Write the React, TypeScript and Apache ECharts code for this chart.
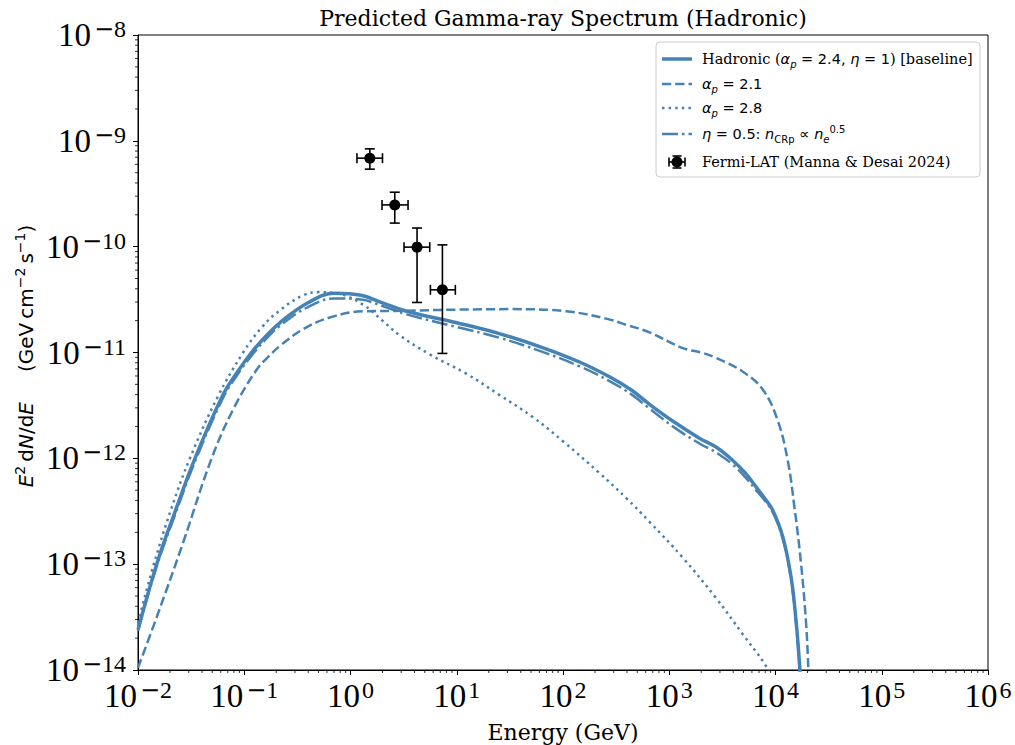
import React, { useEffect, useRef } from 'react';
import * as echarts from 'echarts';

const COLOR = '#4682b4';

// Hadronic baseline (alpha_p = 2.4, eta = 1) and eta = 0.5 share an energy grid (GeV)
const baseEnergy = [0.01, 0.015, 0.0224, 0.0344, 0.0631, 0.085, 0.117, 0.158, 0.216, 0.398, 0.711, 1.26, 2.0, 3.37, 10, 25.1, 63.1, 143, 274, 447, 652, 1122, 1923, 2818, 3963, 5212, 6561, 7943, 9419, 11695, 13996, 15596, 16982, 18197];
const baselineFlux = [2.4e-14, 1.0e-13, 3.16e-13, 1.0e-12, 3.98e-12, 6.4e-12, 1.0e-11, 1.41e-11, 1.91e-11, 2.95e-11, 3.63e-11, 3.47e-11, 2.95e-11, 2.45e-11, 1.91e-11, 1.51e-11, 1.12e-11, 8.13e-12, 5.89e-12, 4.37e-12, 3.24e-12, 2.19e-12, 1.55e-12, 1.26e-12, 9.55e-13, 7.24e-13, 5.37e-13, 4.17e-13, 3.24e-13, 1.82e-13, 7.59e-14, 2.95e-14, 1.0e-14, 3.16e-15];
const etaFlux = [2.34e-14, 9.55e-14, 2.95e-13, 9.33e-13, 3.72e-12, 6.03e-12, 9.33e-12, 1.32e-11, 1.78e-11, 2.69e-11, 3.24e-11, 3.16e-11, 2.75e-11, 2.29e-11, 1.74e-11, 1.38e-11, 1.02e-11, 7.41e-12, 5.37e-12, 3.98e-12, 2.95e-12, 1.95e-12, 1.38e-12, 1.12e-12, 8.71e-13, 6.61e-13, 5.01e-13, 3.98e-13, 3.09e-13, 1.74e-13, 7.24e-14, 2.82e-14, 9.55e-15, 3.16e-15];

// alpha_p = 2.1
const alpha21Energy = [0.01, 0.015, 0.0267, 0.0493, 0.0794, 0.131, 0.168, 0.216, 0.358, 0.638, 1.32, 3.16, 10, 31.6, 107, 255, 398, 652, 1343, 1995, 2754, 4898, 7586, 10471, 13032, 15066, 17378, 19409, 20417, 21380];
const alpha21Flux = [1.05e-14, 3.16e-14, 1.62e-13, 1.0e-12, 2.95e-12, 6.9e-12, 9.1e-12, 1.15e-11, 1.66e-11, 2.14e-11, 2.45e-11, 2.48e-11, 2.54e-11, 2.57e-11, 2.45e-11, 2.09e-11, 1.82e-11, 1.55e-11, 1.1e-11, 1.0e-11, 8.91e-12, 6.61e-12, 4.47e-12, 2.29e-12, 9.55e-13, 3.47e-13, 1.02e-13, 2.75e-14, 1.0e-14, 3.98e-15];

// alpha_p = 2.8
const alpha28Energy = [0.01, 0.0141, 0.0207, 0.0308, 0.0562, 0.0977, 0.147, 0.216, 0.358, 0.501, 0.738, 1.32, 2.0, 2.91, 5.62, 12.3, 25.1, 52.1, 100, 221, 398, 652, 1343, 2754, 4898, 7870, 8913];
const alpha28Flux = [2.8e-14, 1.0e-13, 3.4e-13, 1.0e-12, 3.8e-12, 1.0e-11, 1.74e-11, 2.5e-11, 3.47e-11, 3.72e-11, 3.63e-11, 2.82e-11, 2.0e-11, 1.45e-11, 9.55e-12, 6.31e-12, 3.98e-12, 2.45e-12, 1.45e-12, 7.24e-13, 4.17e-13, 2.51e-13, 1.15e-13, 4.79e-14, 2.19e-14, 1.15e-14, 8.9e-15];

// Fermi-LAT points (Manna & Desai 2024)
const fermiEnergy = [1.52, 2.61, 4.23, 7.33];
const fermiEnergyLow = [1.15, 1.98, 3.19, 5.65];
const fermiEnergyHigh = [2.0, 3.48, 5.57, 9.7];
const fermiFlux = [6.86e-10, 2.48e-10, 9.9e-11, 3.91e-11];
const fermiFluxLow = [5.4e-10, 1.67e-10, 2.97e-11, 9.8e-12];
const fermiFluxHigh = [8.4e-10, 3.27e-10, 1.5e-10, 1.04e-10];

// axis settings
const xMin = 1e-2;
const xMax = 1e6;
const yMin = 1e-14;
const yMax = 1e-8;
const xDecades = [-2, -1, 0, 1, 2, 3, 4, 5];
const yDecades = [-14, -13, -12, -11, -10, -9];
const minorMultipliers = [2, 3, 4, 5, 6, 7, 8, 9];

const xMinorTicks: number[] = [];
xDecades.forEach((d) => minorMultipliers.forEach((m) => xMinorTicks.push(m * Math.pow(10, d))));
const yMinorTicks: number[] = [];
yDecades.forEach((d) => minorMultipliers.forEach((m) => yMinorTicks.push(m * Math.pow(10, d))));

const SERIF = 'DejaVu Serif';
const SANS = 'DejaVu Sans';
const TICKFONT = 'Liberation Serif';

const pairs = (xs: number[], ys: number[]) => xs.map((x, i) => [x, ys[i]]);

const powLabel = (v: number) => {
  const e = Math.round(Math.log10(v));
  if (e < 0) return '{b|10}{m|\u2212}{s|' + String(-e) + '}';
  return '{b|10}{p|' + String(e) + '}';
};

const tickRich = {
  b: { fontSize: 33, fontFamily: TICKFONT, lineHeight: 36, color: '#000' },
  m: { fontSize: 24, fontFamily: SANS, verticalAlign: 'top', color: '#000', padding: [0, 0, 0, 3] },
  s: { fontSize: 24, fontFamily: TICKFONT, verticalAlign: 'top', color: '#000' },
  p: { fontSize: 24, fontFamily: TICKFONT, verticalAlign: 'top', color: '#000', padding: [0, 0, 0, 2] },
};

export default function App() {
  const ref = useRef<HTMLDivElement>(null);

  useEffect(() => {
    if (!ref.current) return;
    const chart = echarts.init(ref.current, undefined, { renderer: 'svg' });

    const legendRich: any = {
      t: { fontFamily: SERIF, fontSize: 14.5, lineHeight: 20, fill: '#000' },
      m: { fontFamily: SANS, fontSize: 14.5, lineHeight: 20, fill: '#000' },
      mi: { fontFamily: SANS, fontStyle: 'italic', fontSize: 14.5, lineHeight: 20, fill: '#000' },
      sub: { fontFamily: SANS, fontStyle: 'italic', fontSize: 10, verticalAlign: 'bottom', fill: '#000' },
      subr: { fontFamily: SANS, fontSize: 10, verticalAlign: 'bottom', fill: '#000' },
      sup: { fontFamily: SANS, fontSize: 10, verticalAlign: 'top', fill: '#000' },
    };

    const rowY = [59, 84, 108, 134, 162];
    const hx1 = 662;
    const hx2 = 692;
    const tx = 702;

    const legendTexts = [
      '{t|Hadronic (}{mi|\u03b1}{sub|p}{m| = 2.4, }{mi|\u03b7}{m| = 1}{t|) [baseline]}',
      '{mi|\u03b1}{sub|p}{m| = 2.1}',
      '{mi|\u03b1}{sub|p}{m| = 2.8}',
      '{mi|\u03b7}{m| = 0.5: }{mi|n}{subr|CRp}{m| \u221d }{mi|n}{sub|e}{sup|0.5}',
      '{t|Fermi-LAT (Manna & Desai 2024)}',
    ];

    const handleStyles = [
      { lineWidth: 3.5, lineDash: null },
      { lineWidth: 2.5, lineDash: [9.25, 4] },
      { lineWidth: 2.5, lineDash: [2.5, 4.1] },
      { lineWidth: 2.5, lineDash: [16, 4, 2.5, 4] },
    ];

    const graphics: any[] = [
      {
        type: 'text',
        x: 563,
        y: 18,
        style: {
          text: 'Predicted Gamma-ray Spectrum (Hadronic)',
          fontFamily: SERIF,
          fontSize: 22,
          fill: '#000',
          textAlign: 'center',
          textVerticalAlign: 'middle',
          align: 'center',
          verticalAlign: 'middle',
        },
      },
      {
        type: 'text',
        x: 563,
        y: 732,
        style: {
          text: 'Energy (GeV)',
          fontFamily: SERIF,
          fontSize: 22,
          fill: '#000',
          textAlign: 'center',
          textVerticalAlign: 'middle',
          align: 'center',
          verticalAlign: 'middle',
        },
      },
      {
        type: 'text',
        x: 26,
        y: 356,
        rotation: Math.PI / 2,
        style: {
          text: '{i|E}{s|2}{n|\u2009d}{i|N}{n|/d}{i|E}{n|\u2003\u2002(GeV\u2009cm}{s|\u22122}{n|\u2009s}{s|\u22121}{n|)}',
          textAlign: 'center',
          textVerticalAlign: 'middle',
          align: 'center',
          verticalAlign: 'middle',
          rich: {
            i: { fontFamily: SANS, fontStyle: 'italic', fontSize: 20, lineHeight: 26, fill: '#000' },
            n: { fontFamily: SANS, fontSize: 20, lineHeight: 26, fill: '#000' },
            s: { fontFamily: SANS, fontSize: 14, verticalAlign: 'top', fill: '#000' },
          },
        },
      },
      {
        type: 'rect',
        shape: { x: 656, y: 42, width: 324, height: 135, r: 4 },
        style: { fill: 'rgba(255,255,255,0.8)', stroke: '#cccccc', lineWidth: 1 },
        z: 50,
      },
    ];

    handleStyles.forEach((hs, i) => {
      graphics.push({
        type: 'line',
        shape: { x1: hx1, y1: rowY[i], x2: hx2, y2: rowY[i] },
        style: { stroke: COLOR, lineWidth: hs.lineWidth, lineDash: hs.lineDash || undefined, lineCap: 'butt' },
        z: 51,
      });
    });

    const mx = 677;
    const my = rowY[4];
    const es = { stroke: '#000', lineWidth: 1.6 };
    graphics.push(
      { type: 'line', shape: { x1: mx - 8, y1: my, x2: mx + 8, y2: my }, style: es, z: 51 },
      { type: 'line', shape: { x1: mx - 8, y1: my - 4.5, x2: mx - 8, y2: my + 4.5 }, style: es, z: 51 },
      { type: 'line', shape: { x1: mx + 8, y1: my - 4.5, x2: mx + 8, y2: my + 4.5 }, style: es, z: 51 },
      { type: 'line', shape: { x1: mx, y1: my - 6, x2: mx, y2: my + 6 }, style: es, z: 51 },
      { type: 'line', shape: { x1: mx - 4.5, y1: my - 6, x2: mx + 4.5, y2: my - 6 }, style: es, z: 51 },
      { type: 'line', shape: { x1: mx - 4.5, y1: my + 6, x2: mx + 4.5, y2: my + 6 }, style: es, z: 51 },
      { type: 'circle', shape: { cx: mx, cy: my, r: 5.5 }, style: { fill: '#000' }, z: 51 }
    );

    legendTexts.forEach((t, i) => {
      graphics.push({
        type: 'text',
        x: tx,
        y: rowY[i],
        style: {
          text: t,
          rich: legendRich,
          textAlign: 'left',
          textVerticalAlign: 'middle',
          align: 'left',
          verticalAlign: 'middle',
        },
        z: 52,
      });
    });

    const lineSeries = (name: string, data: number[][], width: number, type: any) => ({
      name,
      type: 'line',
      data,
      showSymbol: false,
      symbol: 'none',
      smooth: 0.4,
      clip: true,
      lineStyle: { color: COLOR, width, type, cap: 'butt' },
      itemStyle: { color: COLOR },
      z: 3,
    });

    const option: any = {
      animation: false,
      backgroundColor: '#fff',
      grid: {
        left: 138,
        right: 27,
        top: 35,
        bottom: 75,
        show: true,
        borderColor: '#000',
        borderWidth: 1,
        backgroundColor: 'transparent',
      },
      xAxis: {
        type: 'log',
        logBase: 10,
        min: xMin,
        max: xMax,
        splitNumber: 8,
        axisLine: { show: true, lineStyle: { color: '#000', width: 1 } },
        axisTick: { show: true, inside: false, length: 5, lineStyle: { color: '#000', width: 1 } },
        axisLabel: {
          show: true,
          margin: 8,
          formatter: powLabel,
          rich: tickRich,
          color: '#000',
          showMinLabel: true,
          showMaxLabel: true,
        },
        splitLine: { show: false },
        minorTick: { show: false },
      },
      yAxis: {
        type: 'log',
        logBase: 10,
        min: yMin,
        max: yMax,
        splitNumber: 6,
        axisLine: { show: true, lineStyle: { color: '#000', width: 1 } },
        axisTick: { show: true, inside: false, length: 5, lineStyle: { color: '#000', width: 1 } },
        axisLabel: {
          show: true,
          margin: 12,
          formatter: powLabel,
          rich: tickRich,
          color: '#000',
          showMinLabel: true,
          showMaxLabel: true,
        },
        splitLine: { show: false },
        minorTick: { show: false },
      },
      graphic: graphics,
      series: [
        lineSeries('Hadronic (baseline)', pairs(baseEnergy, baselineFlux), 3.5, 'solid'),
        lineSeries('alpha_p = 2.1', pairs(alpha21Energy, alpha21Flux), 2.5, [9.25, 4]),
        lineSeries('alpha_p = 2.8', pairs(alpha28Energy, alpha28Flux), 2.5, [2.5, 4.1]),
        lineSeries('eta = 0.5', pairs(baseEnergy, etaFlux), 2.5, [16, 4, 2.5, 4]),
        {
          name: 'Fermi-LAT (Manna & Desai 2024)',
          type: 'custom',
          coordinateSystem: 'cartesian2d',
          encode: { x: 0, y: 1 },
          data: fermiEnergy.map((e, i) => [e, fermiFlux[i], fermiEnergyLow[i], fermiEnergyHigh[i], fermiFluxLow[i], fermiFluxHigh[i]]),
          z: 10,
          renderItem: (params: any, api: any) => {
            const c = api.coord([api.value(0), api.value(1)]);
            const l = api.coord([api.value(2), api.value(1)]);
            const r = api.coord([api.value(3), api.value(1)]);
            const lo = api.coord([api.value(0), api.value(4)]);
            const hi = api.coord([api.value(0), api.value(5)]);
            const cap = 5;
            const st = { stroke: '#000', lineWidth: 1.6 };
            return {
              type: 'group',
              children: [
                { type: 'line', shape: { x1: l[0], y1: c[1], x2: r[0], y2: c[1] }, style: st },
                { type: 'line', shape: { x1: c[0], y1: lo[1], x2: c[0], y2: hi[1] }, style: st },
                { type: 'line', shape: { x1: l[0], y1: c[1] - cap, x2: l[0], y2: c[1] + cap }, style: st },
                { type: 'line', shape: { x1: r[0], y1: c[1] - cap, x2: r[0], y2: c[1] + cap }, style: st },
                { type: 'line', shape: { x1: c[0] - cap, y1: lo[1], x2: c[0] + cap, y2: lo[1] }, style: st },
                { type: 'line', shape: { x1: c[0] - cap, y1: hi[1], x2: c[0] + cap, y2: hi[1] }, style: st },
                { type: 'circle', shape: { cx: c[0], cy: c[1], r: 5.5 }, style: { fill: '#000' } },
              ],
            };
          },
        },
        {
          name: 'x minor ticks',
          type: 'custom',
          coordinateSystem: 'cartesian2d',
          silent: true,
          clip: false,
          data: xMinorTicks.map((v) => [v, yMin]),
          z: 5,
          renderItem: (params: any, api: any) => {
            const p = api.coord([api.value(0), api.value(1)]);
            return {
              type: 'line',
              shape: { x1: p[0], y1: p[1], x2: p[0], y2: p[1] + 3 },
              style: { stroke: '#000', lineWidth: 0.8 },
            };
          },
        },
        {
          name: 'y minor ticks',
          type: 'custom',
          coordinateSystem: 'cartesian2d',
          silent: true,
          clip: false,
          data: yMinorTicks.map((v) => [xMin, v]),
          z: 5,
          renderItem: (params: any, api: any) => {
            const p = api.coord([api.value(0), api.value(1)]);
            return {
              type: 'line',
              shape: { x1: p[0] - 3, y1: p[1], x2: p[0], y2: p[1] },
              style: { stroke: '#000', lineWidth: 0.8 },
            };
          },
        },
      ],
    };

    chart.setOption(option);
    return () => {
      chart.dispose();
    };
  }, []);

  return (
    <div
      ref={ref}
      style={{ position: 'absolute', left: 0, top: 0, width: 1015, height: 745, background: '#fff' }}
    />
  );
}
